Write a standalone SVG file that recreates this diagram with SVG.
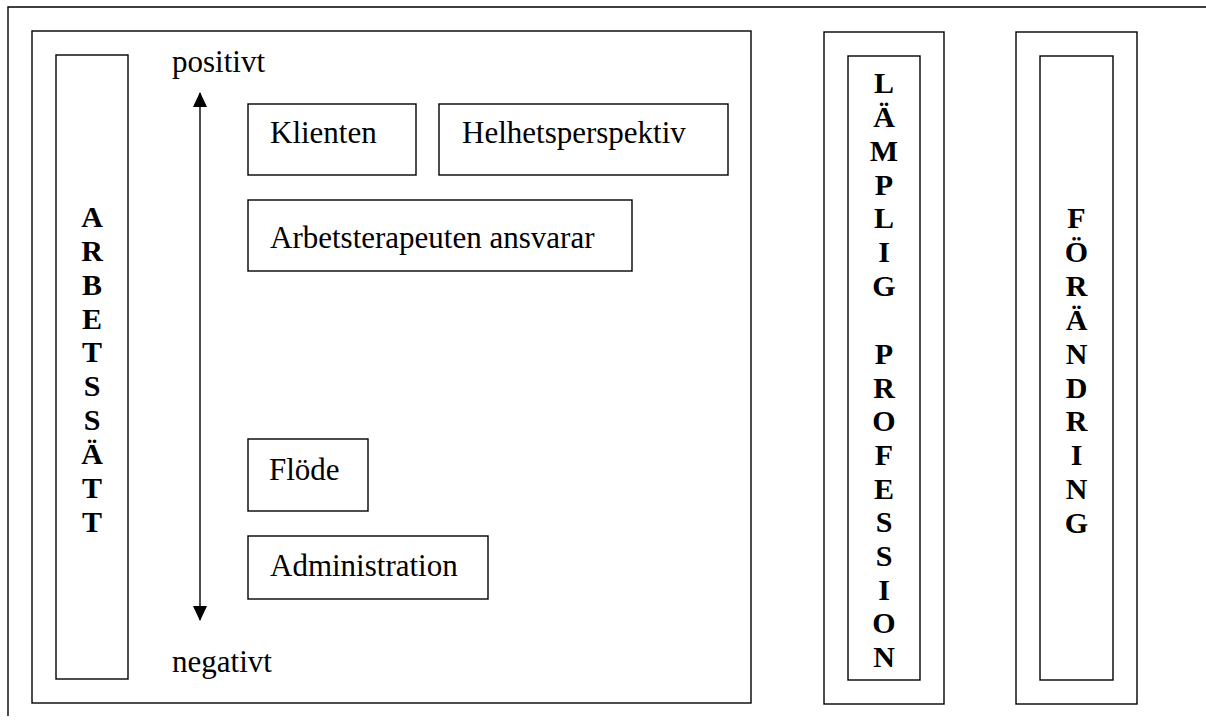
<svg xmlns="http://www.w3.org/2000/svg" width="1206" height="723" viewBox="0 0 1206 723">
<style>
.b{fill:none;stroke:#000;stroke-width:1.4}
.t{font-family:"Liberation Serif","Times New Roman",serif;font-size:31px;fill:#000}
.v{font-family:"Liberation Serif","Times New Roman",serif;font-size:30px;font-weight:bold;fill:#000;text-anchor:middle}
</style>
<defs>
<marker id="ah" markerWidth="15" markerHeight="16" refX="15" refY="7.5" orient="auto" markerUnits="userSpaceOnUse" viewBox="0 0 16 15">
<path d="M0,0 L16,7.5 L0,15 Z" fill="#000"/>
</marker>
<marker id="as" markerWidth="15" markerHeight="16" refX="15" refY="7.5" orient="auto-start-reverse" markerUnits="userSpaceOnUse" viewBox="0 0 16 15">
<path d="M0,0 L16,7.5 L0,15 Z" fill="#000"/>
</marker>
</defs>
<g id="frame">
<path class="b" d="M1206,7 H8 V716"/>
</g>
<g id="main">
<rect class="b" x="32" y="31" width="719" height="672"/>
<text class="t" x="172" y="72">positivt</text>
<text class="t" x="172" y="672">negativt</text>
</g>
<g id="arbetssatt">
<rect class="b" x="56" y="55" width="72" height="624"/>
<text class="v" x="92">
<tspan x="92" y="227">A</tspan><tspan x="92" y="261">R</tspan><tspan x="92" y="295">B</tspan><tspan x="92" y="329">E</tspan><tspan x="92" y="362">T</tspan><tspan x="92" y="396">S</tspan><tspan x="92" y="430">S</tspan><tspan x="92" y="464">Ä</tspan><tspan x="92" y="498">T</tspan><tspan x="92" y="532">T</tspan>
</text>
</g>
<g id="klienten">
<rect class="b" x="248" y="104" width="168" height="71"/>
<text class="t" x="270" y="143">Klienten</text>
</g>
<g id="helhet">
<rect class="b" x="439" y="104" width="289" height="71"/>
<text class="t" x="462" y="143">Helhetsperspektiv</text>
</g>
<g id="ansvarar">
<rect class="b" x="248" y="200" width="384" height="71"/>
<text class="t" x="270" y="248">Arbetsterapeuten ansvarar</text>
</g>
<g id="flode">
<rect class="b" x="248" y="439" width="120" height="72"/>
<text class="t" x="269" y="480">Flöde</text>
</g>
<g id="admin">
<rect class="b" x="248" y="536" width="240" height="63"/>
<text class="t" x="270" y="576">Administration</text>
</g>
<g id="lamplig">
<rect class="b" x="824" y="32" width="120" height="672"/>
<rect class="b" x="848" y="56" width="72" height="624"/>
<text class="v">
<tspan x="884" y="93">L</tspan><tspan x="884" y="127">Ä</tspan><tspan x="884" y="161">M</tspan><tspan x="884" y="195">P</tspan><tspan x="884" y="228">L</tspan><tspan x="884" y="262">I</tspan><tspan x="884" y="296">G</tspan><tspan x="884" y="364">P</tspan><tspan x="884" y="398">R</tspan><tspan x="884" y="431">O</tspan><tspan x="884" y="465">F</tspan><tspan x="884" y="499">E</tspan><tspan x="884" y="532">S</tspan><tspan x="884" y="566">S</tspan><tspan x="884" y="600">I</tspan><tspan x="884" y="633">O</tspan><tspan x="884" y="667">N</tspan>
</text>
</g>
<g id="forandring">
<rect class="b" x="1016" y="32" width="121" height="672"/>
<rect class="b" x="1040" y="56" width="73" height="624"/>
<text class="v">
<tspan x="1076.5" y="228">F</tspan><tspan x="1076.5" y="262">Ö</tspan><tspan x="1076.5" y="296">R</tspan><tspan x="1076.5" y="330">Ä</tspan><tspan x="1076.5" y="364">N</tspan><tspan x="1076.5" y="398">D</tspan><tspan x="1076.5" y="431">R</tspan><tspan x="1076.5" y="465">I</tspan><tspan x="1076.5" y="499">N</tspan><tspan x="1076.5" y="533">G</tspan>
</text>
</g>
<g id="connectors">
<line x1="200" y1="620" x2="200" y2="93" stroke="#000" stroke-width="1.4" marker-start="url(#as)" marker-end="url(#ah)"/>
</g>
</svg>
